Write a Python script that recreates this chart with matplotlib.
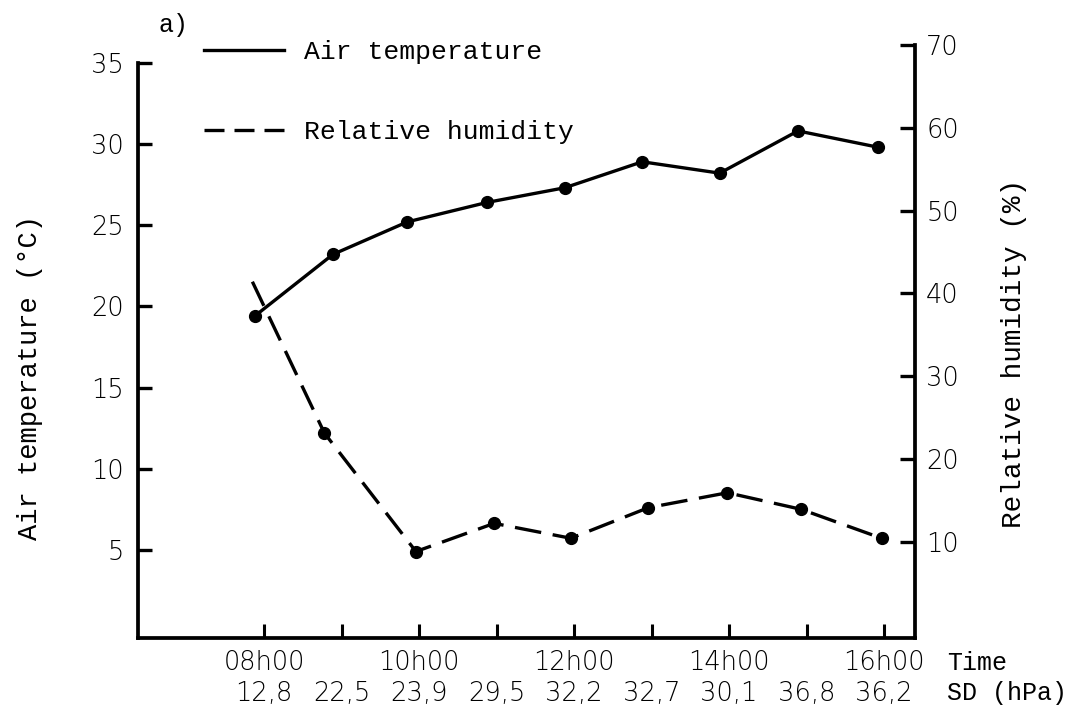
import matplotlib
matplotlib.use("Agg")
import matplotlib.pyplot as plt
from matplotlib.lines import Line2D

# ---- data ----
hours = [8, 9, 10, 11, 12, 13, 14, 15, 16]
hour_labels = ["08h00", "", "10h00", "", "12h00", "", "14h00", "", "16h00"]
sd_labels = ["12,8", "22,5", "23,9", "29,5", "32,2", "32,7", "30,1", "36,8", "36,2"]

temp_time = [7.88, 8.89, 9.85, 10.88, 11.88, 12.88, 13.88, 14.89, 15.92]
temp_vals = [19.4, 23.2, 25.2, 26.4, 27.3, 28.9, 28.2, 30.8, 29.8]

hum_time = [7.85, 8.78, 9.96, 10.97, 11.96, 12.96, 13.98, 14.93, 15.97]
hum_vals = [41.4, 23.1, 8.8, 12.2, 10.4, 14.1, 15.9, 13.9, 10.4]

left_ticks = [5, 10, 15, 20, 25, 30, 35]
right_ticks = [10, 20, 30, 40, 50, 60, 70]

mono = "Liberation Mono"
sans = "DejaVu Sans"

fig = plt.figure(figsize=(10.75, 7.09), dpi=100)
ax = fig.add_axes([138/1075, 1-638/709, (915-138)/1075, (638-45)/709])
ax2 = ax.twinx()

lw = 2.4
ax.plot(temp_time, temp_vals, color="black", lw=lw, marker="o", ms=8.5,
        solid_capstyle="butt")
ax2.plot(hum_time, hum_vals, color="black", lw=lw, marker="o", ms=8.5,
         dashes=(8, 3.5), markevery=list(range(1, len(hum_time))))

ax.set_xlim(6.374, 16.4)
ax.set_ylim(-0.42, 36.09)
ax2.set_ylim(-1.65, 70)

for a in (ax, ax2):
    for s in a.spines.values():
        s.set_linewidth(2.7)
    a.spines["top"].set_visible(False)
ax.spines["right"].set_visible(False)
ax2.spines["left"].set_visible(False)
ax2.spines["bottom"].set_visible(False)
ax.spines["left"].set_bounds(-0.42, 35)

tick_font = dict(fontfamily=sans, fontsize=18.5, fontweight="light")
ax.set_yticks(left_ticks)
ax.set_yticklabels([str(t) for t in left_ticks], **tick_font)
ax2.set_yticks(right_ticks)
ax2.set_yticklabels([str(t) for t in right_ticks], **tick_font)

ax.set_xticks(hours)
ax.set_xticklabels([f"{h}\n{s}" for h, s in zip(hour_labels, sd_labels)],
                   linespacing=1.3, **tick_font)

ax.tick_params(axis="y", direction="in", length=10, width=2.4, pad=10)
ax.tick_params(axis="x", direction="in", length=10, width=2.2, pad=9)
ax2.tick_params(axis="y", direction="in", length=11, width=2.4, pad=8)

fig.text(30/1075, 1-378/709, "Air temperature (°C)", rotation=90, ha="center", va="center",
         fontfamily=mono, fontsize=19.5)
fig.text(1014/1075, 1-353/709, "Relative humidity (%)", rotation=90, ha="center", va="center",
         fontfamily=mono, fontsize=20)
fig.text(947/1075, 1-663/709, "Time", ha="left", va="center", fontfamily=mono, fontsize=18)
fig.text(947/1075, 1-693/709, "SD (hPa)", ha="left", va="center", fontfamily=mono, fontsize=18)
fig.text(158/1075, 1-25/709, "a)", ha="left", va="center", fontfamily=mono, fontsize=18)

handles = [Line2D([], [], color="black", lw=lw),
           Line2D([], [], color="black", lw=lw, dashes=(6, 3))]
leg = ax.legend(handles, ["Air temperature", "Relative humidity"], loc="upper left",
                bbox_to_anchor=(180/1075, 1-16/709), bbox_transform=fig.transFigure,
                frameon=False, handlelength=3.05, handletextpad=0.75, labelspacing=2.15,
                prop={"family": mono, "size": 19})

fig.savefig("out.png", dpi=100)
